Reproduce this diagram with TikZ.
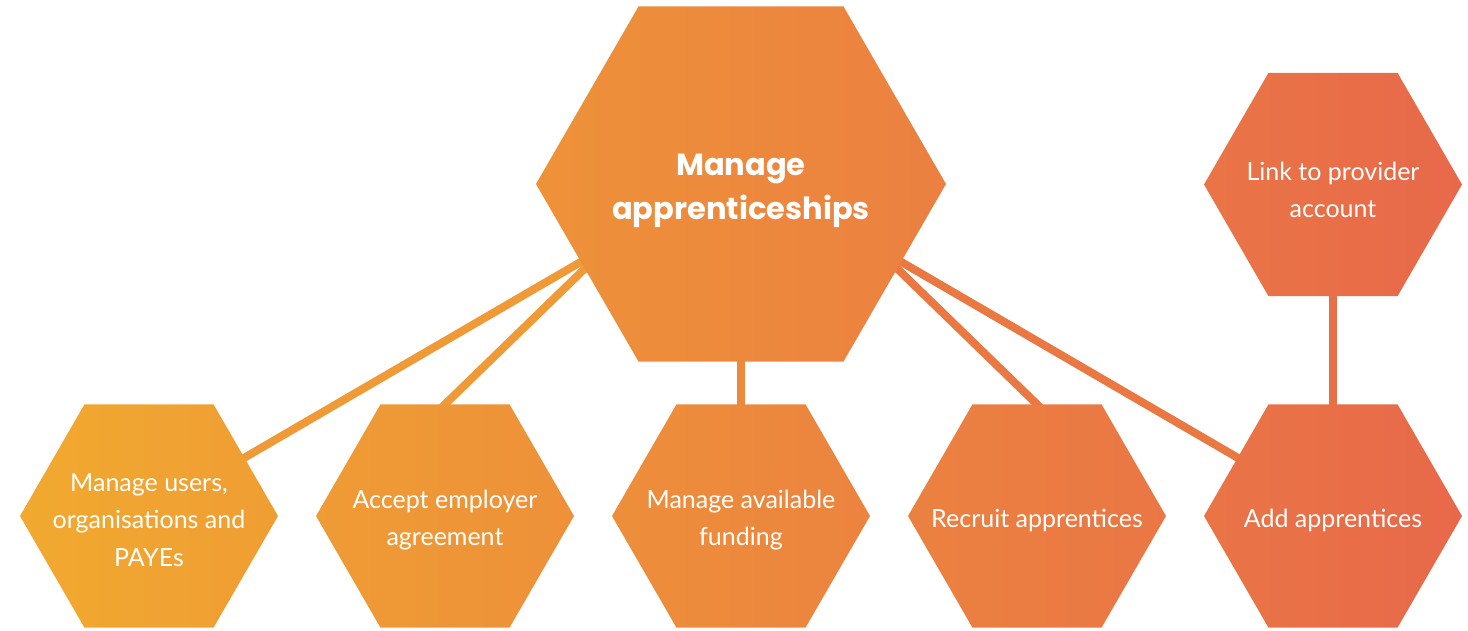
\documentclass[tikz,border=0pt]{standalone}
\usepackage{fontspec}
\setmainfont{Lato}
\newfontfamily\titlefont{Poppins}
\usetikzlibrary{calc}
\pgfdeclarelayer{bg}
\pgfdeclarelayer{mid}
\pgfsetlayers{bg,mid,main}
\definecolor{gA}{HTML}{F1A92F}
\definecolor{gB}{HTML}{E8694A}
\definecolor{lnA}{HTML}{EF9937}
\definecolor{lnM}{HTML}{EC893D}
\definecolor{lnB}{HTML}{EA7843}
\definecolor{lnC}{HTML}{E96F48}
\newcommand\hexat[2]{($(#1)+(0:#2)$) -- ($(#1)+(60:#2)$) -- ($(#1)+(120:#2)$) -- ($(#1)+(180:#2)$) -- ($(#1)+(240:#2)$) -- ($(#1)+(300:#2)$) -- cycle }
\tikzset{
  lbl/.style={text=white, align=center, inner sep=0pt, font=\fontsize{25}{37.5}\selectfont},
  ttl/.style={text=white, align=center, inner sep=0pt, font=\titlefont\bfseries\fontsize{30.5}{44}\selectfont},
  link/.style={line width=8pt},
}
\begin{document}
\begin{tikzpicture}[x=1pt,y=-1pt]
\useasboundingbox (0,0) rectangle (1468,630);
% nodes (text)
\node[ttl] (big) at (741,191) {Manage\\apprenticeships};
\node[lbl] (n1) at (149,520) {Manage users,\\organisations and\\PAYEs};
\node[lbl] (n2) at (445,520) {Accept employer\\agreement};
\node[lbl] (n3) at (741,520) {Manage available\\funding};
\node[lbl] (n4) at (1037,520) {Recruit apprentices};
\node[lbl] (n5) at (1333,520) {Add apprentices};
\node[lbl] (top) at (1333,190) {Link to provider\\account};
% connectors
\begin{pgfonlayer}{bg}
  \draw[link,lnA] ($(big)+(-126,51)$) -- ($(n1)+(76,-51)$);
  \draw[link,lnA] ($(big)+(-136,58)$) -- ($(n2)+(-10,-106)$);
  \draw[link,lnM] (big) -- (n3);
  \draw[link,lnB] ($(big)+(136,58)$) -- ($(n4)+(10,-106)$);
  \draw[link,lnB] ($(big)+(126,51)$) -- ($(n5)+(-76,-51)$);
  \draw[link,lnC] (top) -- (n5);
\end{pgfonlayer}
% hexagon fills with one shared gradient
\begin{pgfonlayer}{mid}
\begin{scope}
  \clip \hexat{741,184}{205} \hexat{149,516}{129} \hexat{445,516}{129} \hexat{741,516}{129} \hexat{1037,516}{129} \hexat{1333,516}{129} \hexat{1333,184.5}{129};
  \shade[left color=gA, right color=gB] (20,0) rectangle (1462,630);
\end{scope}
\end{pgfonlayer}
\end{tikzpicture}
\end{document}
